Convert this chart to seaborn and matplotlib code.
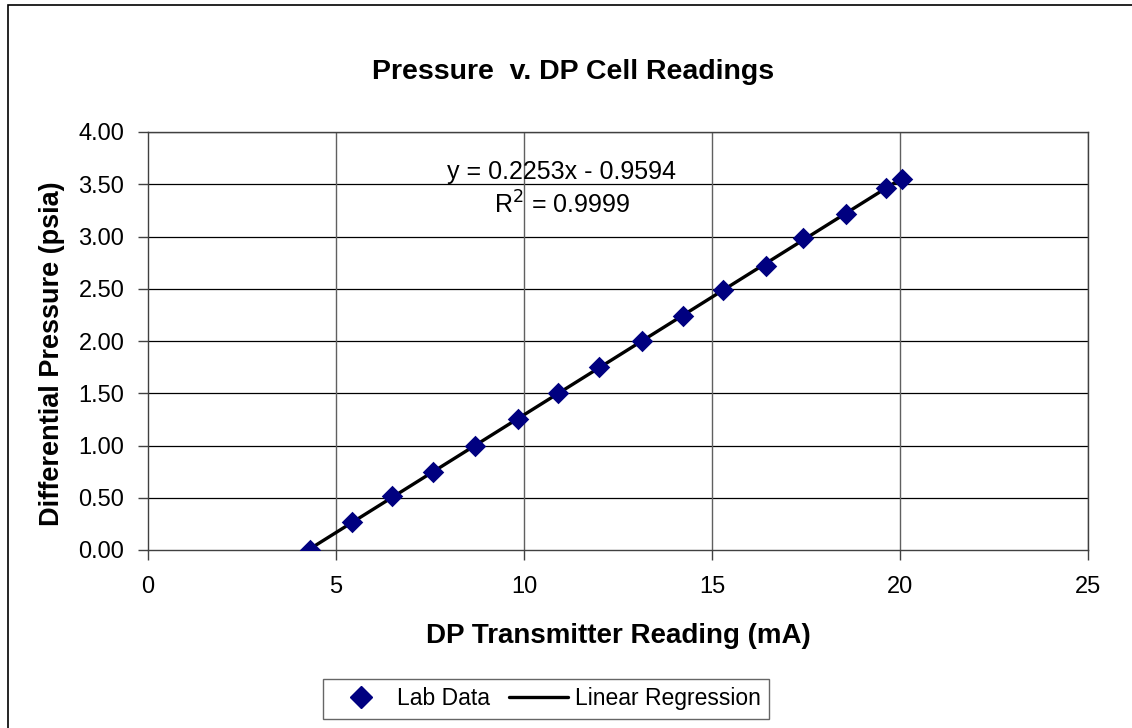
import matplotlib
matplotlib.use("Agg")
import matplotlib.pyplot as plt
import matplotlib.patches as patches
from matplotlib.lines import Line2D
import numpy as np
import pandas as pd
import seaborn as sns

# data
current_ma = [4.31, 5.43, 6.49, 7.58, 8.70, 9.84, 10.90, 11.99,
              13.14, 14.23, 15.29, 16.44, 17.42, 18.56, 19.63, 20.05]
dp_psia = [0.00, 0.27, 0.52, 0.75, 1.00, 1.25, 1.50, 1.75,
           2.00, 2.24, 2.49, 2.72, 2.99, 3.22, 3.46, 3.55]
slope = 0.2253
intercept = -0.9594
r_squared = 0.9999

x_ticks = [0, 5, 10, 15, 20, 25]
y_ticks = [0.0, 0.5, 1.0, 1.5, 2.0, 2.5, 3.0, 3.5, 4.0]

df = pd.DataFrame({"x": current_ma, "y": dp_psia})
x_fit = np.array([min(current_ma), max(current_ma)])
fit_df = pd.DataFrame({"x": x_fit, "y": slope * x_fit + intercept})

sns.set_style("white")
plt.rcParams["font.family"] = ["Liberation Sans", "DejaVu Sans"]
plt.rcParams["text.color"] = "black"
plt.rcParams["axes.labelcolor"] = "black"
plt.rcParams["xtick.color"] = "black"
plt.rcParams["ytick.color"] = "black"

W, H = 1132, 728
fig = plt.figure(figsize=(W / 100, H / 100), dpi=100)
ax = fig.add_axes([148 / W, 1 - 550 / H, (1088 - 148) / W, (550 - 132) / H])

# regression line + data
sns.lineplot(data=fit_df, x="x", y="y", ax=ax, color="black", lw=2.4, zorder=3)
sns.scatterplot(data=df, x="x", y="y", ax=ax, marker="D", s=120,
                color="#000080", edgecolor="#000080", linewidth=0, zorder=4)

ax.set_xlim(0, 25)
ax.set_ylim(0, 4)
ax.set_xticks(x_ticks)
ax.set_yticks(y_ticks)
ax.set_yticklabels([f"{v:.2f}" for v in y_ticks])
ax.tick_params(axis="both", direction="out", length=7, width=1, color="#404040",
               labelcolor="black", labelsize=17, pad=10, left=True, bottom=True)
ax.tick_params(axis="x", pad=12)

ax.grid(False)
for v in y_ticks[1:]:
    ax.axhline(v, color="black", lw=0.9, zorder=1)
for v in x_ticks[1:]:
    ax.axvline(v, color="#606060", lw=1.0, zorder=1)
for s in ax.spines.values():
    s.set_color("#404040")
    s.set_linewidth(1.0)

ax.set_xlabel("DP Transmitter Reading (mA)", fontsize=20, fontweight="bold", labelpad=18)
ax.set_ylabel("Differential Pressure (psia)", fontsize=19.5, fontweight="bold")
ax.yaxis.set_label_coords(-0.088, 0.47)

fig.text(573 / W, 1 - 72 / H, "Pressure  v. DP Cell Readings", fontsize=20.5,
         fontweight="bold", ha="center", va="center")

ax.text(11.0, 3.615, f"y = {slope}x - {abs(intercept)}", fontsize=18,
        ha="center", va="center")
ax.text(11.0, 3.30, f"R$^2$ = {r_squared}", fontsize=18, ha="center", va="center")

handles = [
    Line2D([], [], marker="D", color="#000080", ls="none", markersize=11),
    Line2D([], [], color="black", lw=2.4),
]
leg = fig.legend(handles, ["Lab Data", "Linear Regression"], loc="upper center",
                 bbox_to_anchor=(546 / W, 1 - 668 / H), ncol=2, fontsize=16.5,
                 frameon=True, fancybox=False, edgecolor="#404040",
                 handlelength=2.6, columnspacing=0.8, borderpad=0.35,
                 handletextpad=0.3)
leg.get_frame().set_linewidth(1.0)

fig.patches.append(patches.Rectangle((8 / W, -0.2), 1.5, 1.2 - 5 / H,
                                     transform=fig.transFigure, fill=False,
                                     edgecolor="black", lw=1.2))

fig.savefig("out.png", dpi=100, facecolor="white")
